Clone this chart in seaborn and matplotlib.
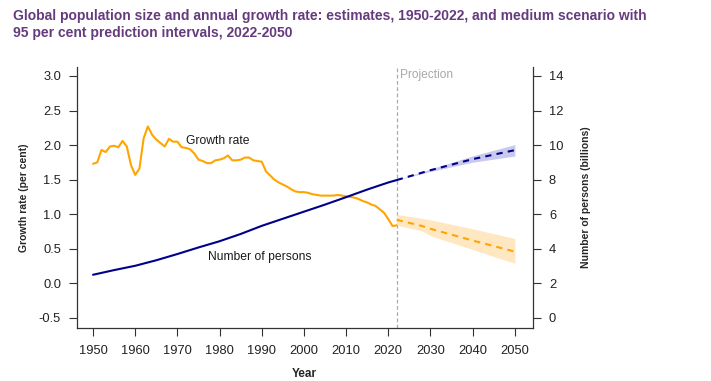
import pandas as pd
import matplotlib
matplotlib.use("Agg")
import matplotlib.pyplot as plt
import seaborn as sns

# growth rate estimates, per cent (1950-2022, annual)
growth_years = list(range(1950, 2023))
growth_rate = [1.73, 1.75, 1.93, 1.90, 1.98, 1.99, 1.97, 2.06, 1.98, 1.71,
               1.57, 1.66, 2.10, 2.27, 2.15, 2.08, 2.03, 1.98, 2.09, 2.05,
               2.05, 1.97, 1.96, 1.94, 1.88, 1.79, 1.77, 1.74, 1.74, 1.78,
               1.79, 1.81, 1.85, 1.78, 1.78, 1.79, 1.82, 1.82, 1.78, 1.77,
               1.76, 1.62, 1.56, 1.50, 1.46, 1.43, 1.40, 1.36, 1.33, 1.32,
               1.32, 1.31, 1.29, 1.28, 1.27, 1.27, 1.27, 1.27, 1.28, 1.27,
               1.26, 1.25, 1.24, 1.22, 1.19, 1.17, 1.14, 1.12, 1.07, 1.02,
               0.93, 0.83, 0.84]

# population estimates, billions
pop_years = [1950, 1955, 1960, 1965, 1970, 1975, 1980, 1985, 1990, 1995,
             2000, 2005, 2010, 2015, 2020, 2022]
pop = [2.50, 2.77, 3.02, 3.34, 3.70, 4.08, 4.44, 4.86, 5.33, 5.74,
       6.15, 6.56, 6.99, 7.43, 7.84, 7.98]

# medium scenario with 95% intervals
proj_growth_years = [2022, 2028, 2030, 2040, 2050]
proj_growth = [0.92, 0.83, 0.79, 0.62, 0.46]
proj_growth_lo = [0.84, 0.76, 0.69, 0.49, 0.29]
proj_growth_hi = [1.00, 0.94, 0.92, 0.79, 0.65]

proj_pop_years = [2022, 2030, 2040, 2050]
proj_pop = [7.98, 8.55, 9.19, 9.71]
proj_pop_lo = [7.98, 8.48, 9.01, 9.37]
proj_pop_hi = [7.98, 8.62, 9.38, 10.03]

x_ticks = list(range(1950, 2051, 10))
left_ticks = [-0.5, 0.0, 0.5, 1.0, 1.5, 2.0, 2.5, 3.0]
right_ticks = [0, 2, 4, 6, 8, 10, 12, 14]

sns.set_style("ticks")
plt.rcParams['font.family'] = ['Liberation Sans', 'DejaVu Sans']

ORANGE = '#FFA500'
NAVY = '#00008B'
AXC = '#333333'

est = pd.DataFrame({'year': growth_years, 'growth': growth_rate})
pop_df = pd.DataFrame({'year': pop_years, 'pop': pop})
pg = pd.DataFrame({'year': proj_growth_years, 'val': proj_growth})
pp = pd.DataFrame({'year': proj_pop_years, 'val': proj_pop})

fig = plt.figure(figsize=(7.11, 3.81), dpi=100)
ax = fig.add_axes([77 / 711, 1 - 328 / 381, (533 - 77) / 711, (328 - 67) / 381])
ax2 = ax.twinx()

# bands
ax.fill_between(proj_growth_years, proj_growth_lo, proj_growth_hi,
                color='#FFE7C2', lw=0, zorder=1)
ax2.fill_between(proj_pop_years, proj_pop_lo, proj_pop_hi,
                 color='#C9C9EE', lw=0, zorder=1)

ax.axvline(2022, color='#AAAAAA', lw=0.9, ls=(0, (3, 2)), zorder=0)

sns.lineplot(data=est, x='year', y='growth', ax=ax, color=ORANGE, linewidth=1.5)
sns.lineplot(data=pg, x='year', y='val', ax=ax, color=ORANGE, linewidth=1.5,
             linestyle=(0, (3, 2.5)))
sns.lineplot(data=pop_df, x='year', y='pop', ax=ax2, color=NAVY, linewidth=1.5)
sns.lineplot(data=pp, x='year', y='val', ax=ax2, color=NAVY, linewidth=1.5,
             linestyle=(0, (3, 2.5)))

ax.set_xlim(1946.2, 2054.3)
ax.set_ylim(-0.645, 3.13)
ax2.set_ylim(-0.58, 14.52)

ax.set_xticks(x_ticks)
ax.set_yticks(left_ticks)
ax.set_yticklabels([f"{v:.1f}" for v in left_ticks])
ax2.set_yticks(right_ticks)

for s in ['top', 'right']:
    ax.spines[s].set_visible(False)
for s in ['top', 'left', 'bottom']:
    ax2.spines[s].set_visible(False)
for s in ['left', 'bottom']:
    ax.spines[s].set_color(AXC)
    ax.spines[s].set_linewidth(0.9)
ax2.spines['right'].set_color(AXC)
ax2.spines['right'].set_linewidth(0.9)

ax.tick_params(axis='y', length=5.5, width=0.8, color=AXC, labelsize=9.3, pad=6, labelcolor='#222222')
ax.tick_params(axis='x', length=5.5, width=0.8, color=AXC, labelsize=9.3, pad=7, labelcolor='#222222')
ax2.tick_params(axis='y', length=5.5, width=0.8, color=AXC, labelsize=9.3, pad=6, labelcolor='#222222')

ax.set_xlabel('Year', fontsize=8.5, fontweight='bold', labelpad=8)
ax.set_ylabel('Growth rate (per cent)', fontsize=7.5, fontweight='bold', labelpad=8)
ax2.set_ylabel('Number of persons (billions)', fontsize=7.5, fontweight='bold', labelpad=12)
ax.xaxis.set_label_coords((304 - 77) / (533 - 77), -(368 - 328) / (328 - 67))
ax.yaxis.set_label_coords(-(77 - 29) / (533 - 77), 0.5)
ax2.yaxis.set_label_coords((581 - 77) / (533 - 77), 0.5)

ax.text(1972.0, 2.056, 'Growth rate', fontsize=8.7, color='#1a1a1a', ha='left', va='center')
ax.text(1977.25, 0.38, 'Number of persons', fontsize=8.7, color='#1a1a1a', ha='left', va='center')
ax.text(2022.75, 3.01, 'Projection', fontsize=8.6, color='#A8A8A8', ha='left', va='center')

title_color = '#653B7D'
fig.text(13 / 711, 1 - 20 / 381,
         'Global population size and annual growth rate: estimates, 1950-2022, and medium scenario with',
         fontsize=10, fontweight='bold', color=title_color, ha='left', va='baseline')
fig.text(13 / 711, 1 - 37 / 381,
         '95 per cent prediction intervals, 2022-2050',
         fontsize=10, fontweight='bold', color=title_color, ha='left', va='baseline')

fig.savefig('out.png', dpi=100)
